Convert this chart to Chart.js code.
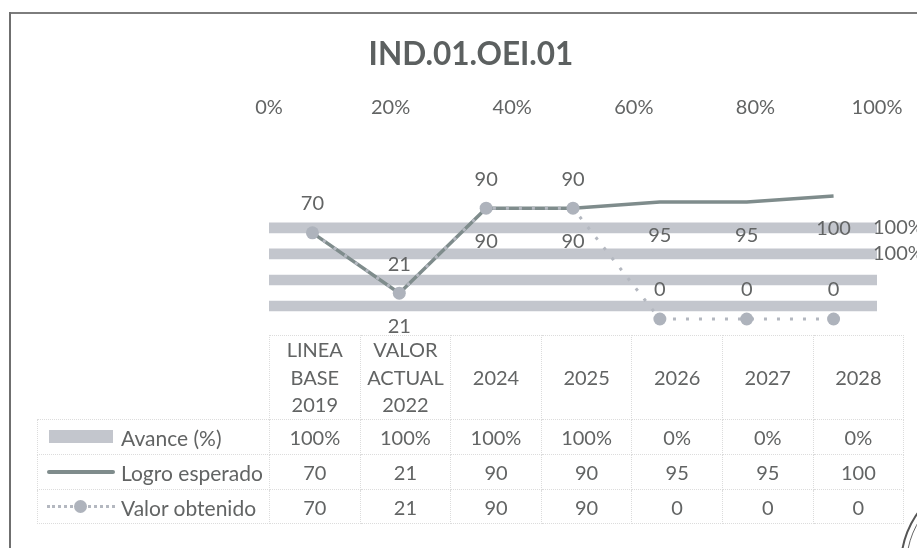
<!DOCTYPE html>
<html>
<head>
<meta charset="utf-8">
<title>IND.01.OEI.01</title>
<script src="https://cdn.jsdelivr.net/npm/chart.js@4"></script>
<style>
  html, body { margin: 0; width: 917px; height: 548px; overflow: hidden; background: #fff; }
  body { position: relative; font-family: Lato, sans-serif; color: #626464; }
  #chart { position: absolute; left: 10px; top: 0; }
  .frame-top { position: absolute; left: 9px; top: 12px; right: 0; height: 2px; background: #7d7d7d; }
  .frame-left { position: absolute; left: 9px; top: 12px; bottom: 0; width: 2px; background: #6f6f6f; }
  .stamp { position: absolute; left: 900px; top: 475px; width: 176px; height: 176px; border: 2px solid #555; border-radius: 50%; }
  .stamp::after { content: ''; position: absolute; inset: 4px; border: 1px solid #666; border-radius: 50%; }
  #dataTable { position: absolute; left: 37px; top: 335px; border-collapse: collapse; table-layout: fixed; width: 866px; font-size: 20px; }
  #dataTable td { border: 1px dotted #dcdcdc; text-align: center; padding: 0; line-height: 27.5px; }
  #dataTable tr.vals td { padding-top: 3px; box-sizing: border-box; }
  #dataTable td.blank { border: 0; }
  #dataTable td.key { text-align: left; position: relative; padding-left: 83px; white-space: nowrap; font-size: 21px; }
  .sw { position: absolute; left: 9px; top: 50%; width: 68px; }
  .sw-bar { height: 13px; margin-top: -7px; background: #c3c6cd; left: 11px; width: 64px; }
  .sw-line { height: 4px; margin-top: -2px; background: #7f8c8c; border-radius: 2px; }
  .sw-dots { height: 0; border-top: 3px dotted #b4b8c0; margin-top: -1px; }
  .sw-dots::after { content: ''; position: absolute; left: 27px; top: -8px; width: 13px; height: 13px; border-radius: 50%; background: #aeb3bc; }
</style>
</head>
<body>
<div class="frame-top"></div>
<div class="frame-left"></div>
<canvas id="chart" width="922" height="548"></canvas>
<table id="dataTable"></table>
<div class="stamp"></div>
<script>
// ===== data =====
const categories = ['LINEA BASE 2019', 'VALOR ACTUAL 2022', '2024', '2025', '2026', '2027', '2028'];
const headerLines = [['LINEA', 'BASE', '2019'], ['VALOR', 'ACTUAL', '2022'], ['2024'], ['2025'], ['2026'], ['2027'], ['2028']];
const avance = [100, 100, 100, 100, 0, 0, 0];
const logro = [70, 21, 90, 90, 95, 95, 100];
const valor = [70, 21, 90, 90, 0, 0, 0];
const percentTicks = [0, 20, 40, 60, 80, 100];
// the picture only shows some of the data labels
const avanceLabelled = [2, 3];
const logroLabelled = [1, 2, 3, 4, 5, 6];
const valorLabelled = [0, 1, 2, 3, 4, 5, 6];

const GREY = '#626464';
const FONT = 'Lato, sans-serif';

// data labels, drawn off the chart's own elements
const pointLabels = {
  id: 'pointLabels',
  afterDatasetsDraw(chart) {
    const ctx = chart.ctx;
    ctx.save();
    ctx.font = '20px ' + FONT;
    ctx.fillStyle = GREY;
    ctx.textBaseline = 'middle';
    ctx.textAlign = 'center';
    chart.getDatasetMeta(1).data.forEach((p, i) => {
      if (logroLabelled.includes(i)) ctx.fillText(logro[i], p.x, p.y + 33);
    });
    chart.getDatasetMeta(2).data.forEach((p, i) => {
      if (valorLabelled.includes(i)) ctx.fillText(valor[i], p.x, p.y - 29);
    });
    ctx.textAlign = 'left';
    chart.getDatasetMeta(0).data.forEach((b, i) => {
      if (avanceLabelled.includes(i)) ctx.fillText(avance[i] + '%', b.x - 4, b.y);
    });
    ctx.restore();
  }
};

// hidden axes that only reserve the side margins, so the title stays centred on the whole chart
const reserveWidth = w => ({
  ticks: { display: false }, grid: { display: false }, border: { display: false },
  afterFit: s => { s.width = w; }
});

new Chart(document.getElementById('chart'), {
  type: 'bar',
  data: {
    labels: categories,
    datasets: [
      { type: 'bar', label: 'Avance (%)', data: avance, indexAxis: 'y', xAxisID: 'xPct', yAxisID: 'yRows', grouped: false,
        backgroundColor: c => c.raw > 0 ? '#c3c6cd' : 'transparent', barThickness: 10, order: 3 },
      { type: 'line', label: 'Logro esperado', data: logro, xAxisID: 'x', yAxisID: 'y',
        borderColor: '#7f8c8c', borderWidth: 3.5, pointRadius: 0, tension: 0, clip: false, order: 2 },
      { type: 'line', label: 'Valor obtenido', data: valor, xAxisID: 'x', yAxisID: 'y',
        borderColor: '#b4b8c0', borderWidth: 3, borderDash: [3, 10], tension: 0, clip: false, order: 1,
        pointRadius: 6.5, pointBackgroundColor: '#aeb3bc', pointBorderWidth: 0 }
    ]
  },
  options: {
    responsive: false,
    animation: false,
    layout: { padding: { left: 0, right: 0, top: 0, bottom: 229 } },
    plugins: {
      legend: { display: false },
      tooltip: { enabled: false },
      title: {
        display: true, text: 'IND.01.OEI.01', color: '#5c6060',
        font: { family: FONT, size: 31.5, weight: 'bold' },
        padding: { top: 36, bottom: 13 }
      }
    },
    scales: {
      x: { axis: 'x', type: 'category', offset: true, display: false },
      y: { axis: 'y', type: 'linear', position: 'right', min: 0, max: 148, ...reserveWidth(55) },
      xPct: {
        axis: 'x', type: 'linear', position: 'top', min: 0, max: 100, offset: false,
        grid: { display: false }, border: { display: false },
        afterBuildTicks: s => { s.ticks = percentTicks.map(v => ({ value: v })); },
        ticks: { color: GREY, font: { family: FONT, size: 20 }, maxRotation: 0, padding: 9, callback: v => v + '%' }
      },
      yRows: { axis: 'y', type: 'category', position: 'left', reverse: true, offset: true, ...reserveWidth(259) }
    }
  },
  plugins: [pointLabels]
});

// ===== data table under the plot =====
const rows = [
  ['Avance (%)', 'sw-bar', avance.map(v => v + '%')],
  ['Logro esperado', 'sw-line', logro],
  ['Valor obtenido', 'sw-dots', valor]
];
const rowHeights = [35, 35, 34];
document.getElementById('dataTable').innerHTML = `
  <colgroup><col style="width:232px">${categories.map(() => '<col style="width:90.6px">').join('')}</colgroup>
  <tr style="height:83px"><td class="blank"></td>${headerLines.map(l => `<td>${l.join('<br>')}</td>`).join('')}</tr>
  ${rows.map((r, i) => `<tr class="vals" style="height:${rowHeights[i]}px"><td class="key"><span class="sw ${r[1]}"></span>${r[0]}</td>${r[2].map(v => `<td>${v}</td>`).join('')}</tr>`).join('')}
`;
</script>
</body>
</html>
